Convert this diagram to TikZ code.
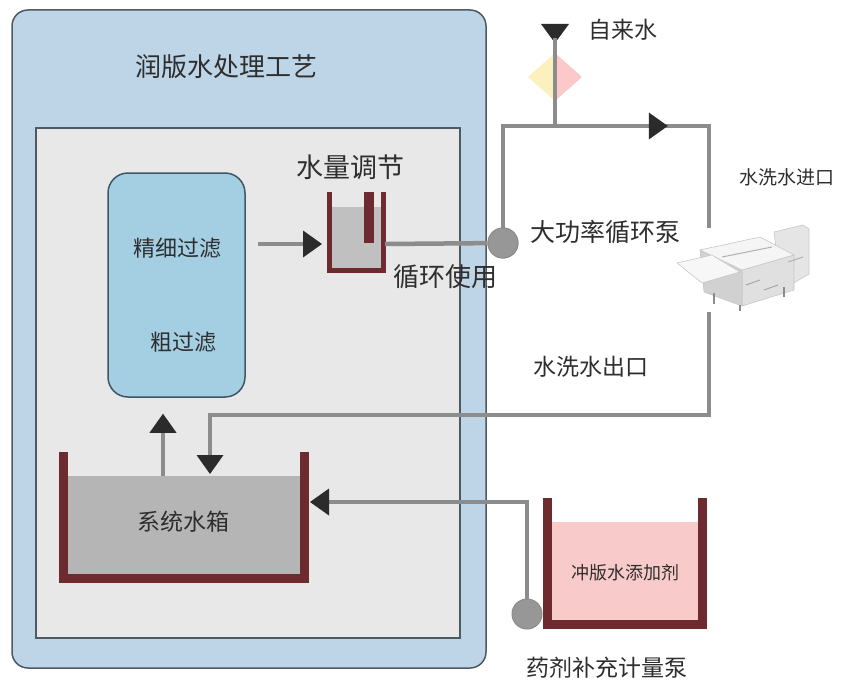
\documentclass[tikz,border=0pt]{standalone}
\usepackage{fontspec}
\newfontfamily\cjk{Noto Sans CJK SC}
\usetikzlibrary{arrows.meta,calc}

\definecolor{frameblue}{HTML}{BED5E7}
\definecolor{framegray}{HTML}{4E5962}
\definecolor{panelgray}{HTML}{E8E8E8}
\definecolor{filterblue}{HTML}{A4CFE3}
\definecolor{filterline}{HTML}{3F5666}
\definecolor{wallred}{HTML}{6D2B2F}
\definecolor{watergray}{HTML}{B5B5B5}
\definecolor{pipegray}{HTML}{8C8C8C}
\definecolor{tipdark}{HTML}{2B2B2B}
\definecolor{dosepink}{HTML}{F9CACA}
\definecolor{valveyellow}{HTML}{FBF0BE}
\definecolor{valvepink}{HTML}{FBC9C9}
\definecolor{labelgray}{HTML}{2E2E2E}

\tikzset{
  flowtip/.tip={Triangle[length=19pt,width=27pt,line width=0pt,color=tipdark]},
  pipe/.style={draw=pipegray, line width=4.5pt},
  wall/.style={draw=wallred, line width=#1, line join=miter},
  pumpnode/.style={circle, fill=pipegray!90, draw=pipegray, line width=1pt, minimum size=30pt, inner sep=0pt},
  cntext/.style={text=labelgray, font=\cjk\fontsize{#1}{#1}\selectfont, inner sep=0pt},
  machinepart/.style={fill=#1, draw=black!22, line width=0.6pt, line join=round},
}

\begin{document}
\begin{tikzpicture}[x=1pt,y=-1pt]
\useasboundingbox (0,0) rectangle (843,682);

% treatment frame
\draw[fill=frameblue, draw=framegray, line width=1.5pt, rounded corners=16pt] (12,10) rectangle (486,668);
\draw[fill=panelgray, draw=framegray, line width=1.5pt] (36,128) rectangle (460,638);
\node[cntext=26] (title) at (226,67) {润版水处理工艺};

% filter column
\node[fill=filterblue, draw=filterline, line width=1.5pt, rounded corners=20pt,
      minimum width=137pt, minimum height=224pt] (filter) at (176.5,285) {};
\node[cntext=22] (fine) at (177,248) {精细过滤};
\node[cntext=22] (coarse) at (183,342) {粗过滤};

% level tank
\fill[watergray!85] (329,207) rectangle (383,270);
\draw[wall=5pt] (329,192) -- (329,270) -- (383,270) -- (383,192);
\fill[wallred] (364,192) rectangle (374,243);
\node[cntext=27] (levelcap) at (350,167) {水量调节};
\node[cntext=26] (reuse) at (445,277) {循环使用};
\coordinate (levelin) at (322,244);
\coordinate (levelout) at (385,244);
\coordinate (filterout) at (258,244);
\draw[pipe,-flowtip] (filterout) -- (levelin);

% system tank
\fill[watergray] (68,476) rectangle (300,574);
\draw[wall=9pt] (63,452) -- (63,578) -- (304,578) -- (304,452);
\node[cntext=23] (systank) at (183,522) {系统水箱};
\coordinate (sysup) at (163,476);
\draw[pipe,-flowtip] (sysup) -- (sysup |- filter.south) [shorten >=16pt];

% mains water and valve
\fill[valveyellow] (528,77) -- (555,53) -- (555,101) -- cycle;
\fill[valvepink] (555,53) -- (582,77) -- (555,101) -- cycle;
\fill[tipdark] (541,24) -- (569,24) -- (555,43) -- cycle;
\coordinate (mains) at (555,38);
\node[cntext=23] (mainscap) at (623,30) {自来水};

% circulation loop
\node[pumpnode] (looppump) at (503,243) {};
\coordinate (railw) at (503,126);
\coordinate (raile) at (709,126);
\coordinate (returne) at (709,415);
\coordinate (returnw) at (210,415);
\coordinate (tankin) at (210,474);
\node (machine) at (743,270) [minimum width=133pt, minimum height=84pt, inner sep=0pt] {};
\draw[pipe] (mains) -- (mains |- railw);
\draw[pipe] (levelout) -- (looppump);
\draw[pipe] (looppump) -- (railw) -- (raile) -- (raile |- machine.north);
\draw[pipe,-flowtip] (railw) -- ($(railw)!0.8!(raile)$);
\draw[pipe,-flowtip] (machine.south -| returne) -- (returne) -- (returnw) -- (tankin);
\node[pumpnode] at (looppump) {};
\node[cntext=25] (loopcap) at (605,232) {大功率循环泵};
\node[cntext=19] (washin) at (787,177) {水洗水进口};
\node[cntext=23] (washout) at (591,367) {水洗水出口};

% plate washer
\draw[machinepart=black!10] (774,232) -- (803,225) -- (809,229) -- (809,274) -- (792,284) -- (780,279) -- cycle;
\draw[machinepart=black!12] (794,255) -- (794,290) -- (742,306) -- (742,270) -- cycle;
\draw[machinepart=black!18] (700,250) -- (742,270) -- (742,306) -- (704,292) -- cycle;
\draw[machinepart=black!4] (700,250) -- (760,237) -- (794,255) -- (742,270) -- cycle;
\draw[machinepart=black!3] (677,263) -- (712,255) -- (740,272) -- (702,283) -- cycle;
\draw[black!45, line width=1.5pt] (714,293) -- (714,304) (740,305) -- (740,311) (784,287) -- (784,297);
\draw[black!30, line width=1pt] (722,257) -- (772,247) (788,262) -- (803,257);
\draw[black!35, line width=1pt] (746,285) -- (760,280) (764,290) -- (778,285);

% dosing tank and pump
\fill[dosepink] (552,522) rectangle (698,622);
\draw[wall=9pt] (547,498) -- (547,624) -- (702,624) -- (702,498);
\node[cntext=18] (chemtank) at (625,573) {冲版水添加剂};
\node[pumpnode] (dosepump) at (527,614) {};
\coordinate (chemback) at (310,502);
\draw[pipe,-flowtip] (dosepump) -- (dosepump |- chemback) -- (chemback);
\node[cntext=23] (dosecap) at (607,668) {药剂补充计量泵};
\end{tikzpicture}
\end{document}
